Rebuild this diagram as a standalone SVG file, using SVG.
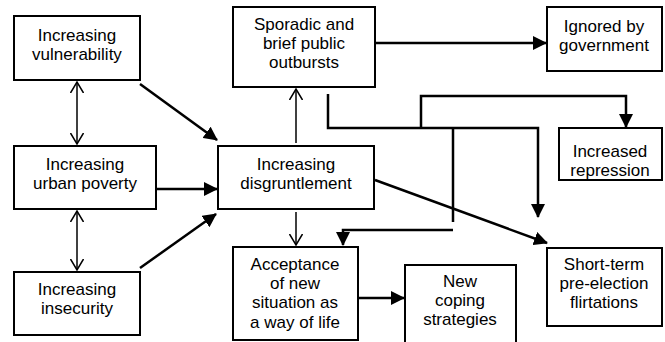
<svg xmlns="http://www.w3.org/2000/svg" width="665" height="342" viewBox="0 0 665 342">
<defs>
<marker id="fill" markerUnits="userSpaceOnUse" markerWidth="14" markerHeight="14" refX="13" refY="7" orient="auto"><path d="M0,0 L14,7 L0,14 z" fill="#000"/></marker>
<marker id="open" markerUnits="userSpaceOnUse" markerWidth="12" markerHeight="14" refX="11" refY="7" orient="auto"><path d="M0,0.5 L11,7 L0,13.5" fill="none" stroke="#000" stroke-width="1.5"/></marker>
<marker id="openS" markerUnits="userSpaceOnUse" markerWidth="12" markerHeight="14" refX="1" refY="7" orient="auto"><path d="M12,0.5 L1,7 L12,13.5" fill="none" stroke="#000" stroke-width="1.5"/></marker>
</defs>
<style>
rect{fill:#fff;stroke:#000;stroke-width:2}
text{font-family:"Liberation Sans",Arial,sans-serif;font-size:17px;text-anchor:middle;fill:#000}
.t{fill:none;stroke:#000;stroke-width:2.5}
.n{fill:none;stroke:#000;stroke-width:1.5}
</style>
<rect x="0" y="0" width="665" height="342" style="stroke:none;fill:#fff"/>
<g id="connectors">
<line class="n" x1="77" y1="82" x2="77" y2="144" marker-start="url(#openS)" marker-end="url(#open)"/>
<line class="n" x1="77" y1="211" x2="77" y2="270" marker-start="url(#openS)" marker-end="url(#open)"/>
<line class="t" x1="140" y1="84" x2="217" y2="140" marker-end="url(#fill)"/>
<line class="t" x1="156" y1="189" x2="217" y2="189" marker-end="url(#fill)"/>
<line class="t" x1="140" y1="268" x2="216" y2="214" marker-end="url(#fill)"/>
<line class="n" x1="296" y1="143" x2="296" y2="89" marker-end="url(#open)"/>
<line class="n" x1="296" y1="212" x2="296" y2="245" marker-end="url(#open)"/>
<line class="t" x1="375" y1="43" x2="546" y2="43" marker-end="url(#fill)"/>
<polyline class="t" points="328,94 328,128 538,128 538,217" marker-end="url(#fill)"/>
<polyline class="t" points="421,128 421,96 626,96 626,127" marker-end="url(#fill)"/>
<line class="t" x1="453" y1="128" x2="453" y2="222"/>
<polyline class="t" points="453,230 343,230 343,245" marker-end="url(#fill)"/>
<line class="t" x1="375" y1="180" x2="547" y2="243" marker-end="url(#fill)"/>
<line class="t" x1="359" y1="298" x2="404" y2="298" marker-end="url(#fill)"/>
</g>
<g id="vulnerability"><rect x="14" y="16" width="126" height="64"/><text x="77" y="41">Increasing</text><text x="77" y="60">vulnerability</text></g>
<g id="poverty"><rect x="14" y="146" width="142" height="63"/><text x="85" y="170">Increasing</text><text x="85" y="189">urban poverty</text></g>
<g id="insecurity"><rect x="14" y="272" width="126" height="63"/><text x="77" y="295">Increasing</text><text x="77" y="314">insecurity</text></g>
<g id="disgruntlement"><rect x="218" y="146" width="156" height="63"/><text x="296" y="170">Increasing</text><text x="296" y="189">disgruntlement</text></g>
<g id="outbursts"><rect x="233" y="7" width="142" height="80"/><text x="304" y="30">Sporadic and</text><text x="304" y="49">brief public</text><text x="304" y="68">outbursts</text></g>
<g id="ignored"><rect x="547" y="7" width="115" height="64"/><text x="604" y="32">Ignored by</text><text x="604" y="51">government</text></g>
<g id="repression"><rect x="559" y="128" width="103" height="52"/><text x="610" y="157">Increased</text><text x="610" y="176">repression</text></g>
<g id="shortterm"><rect x="547" y="248" width="115" height="78"/><text x="604" y="270">Short-term</text><text x="604" y="289">pre-election</text><text x="604" y="308">flirtations</text></g>
<g id="acceptance"><rect x="233" y="247" width="125" height="93"/><text x="295" y="270">Acceptance</text><text x="295" y="289">of new</text><text x="295" y="308">situation as</text><text x="295" y="328">a way of life</text></g>
<g id="coping"><rect x="405" y="265" width="111" height="80"/><text x="460" y="287">New</text><text x="460" y="306">coping</text><text x="460" y="325">strategies</text></g>
</svg>
